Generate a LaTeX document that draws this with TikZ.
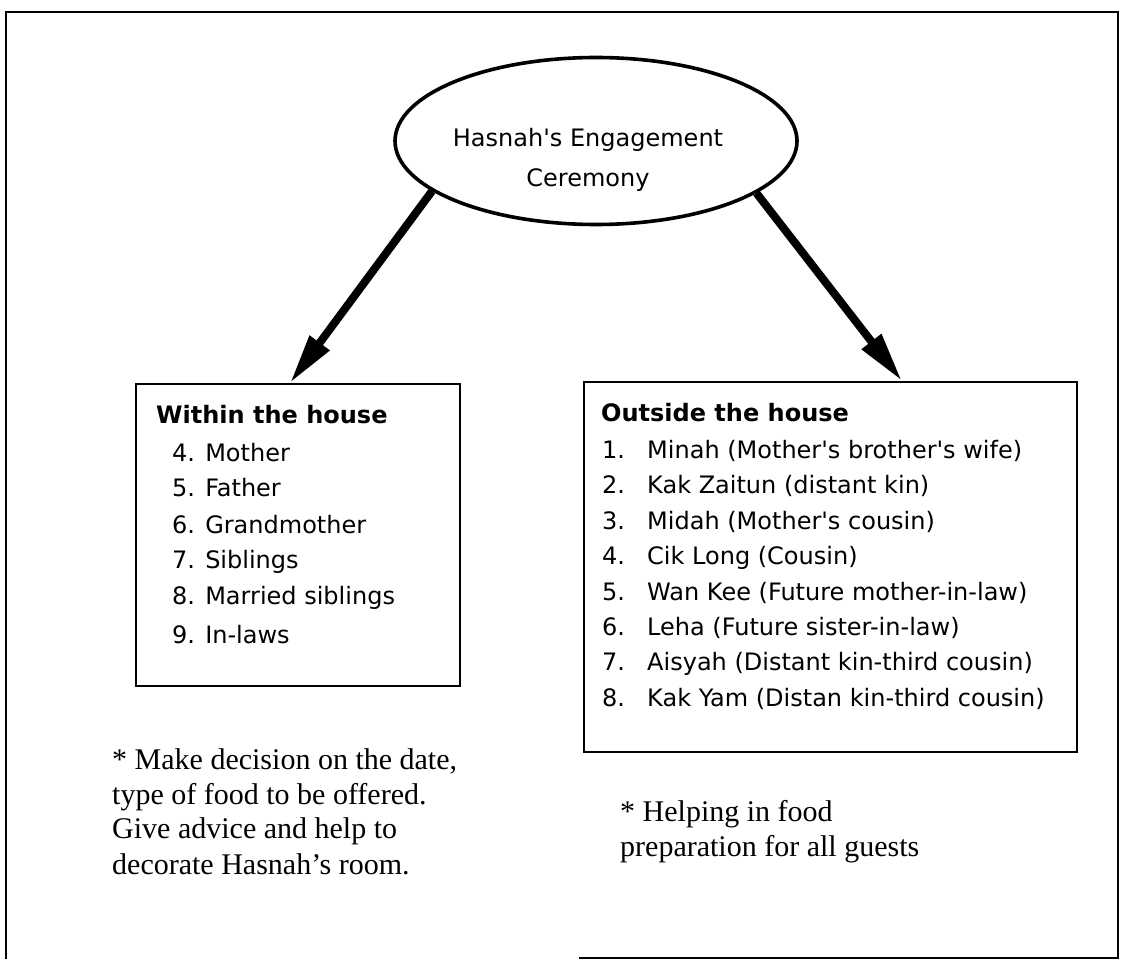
\documentclass[tikz,border=0pt]{standalone}
\usepackage{fontspec}
\setmainfont{Liberation Serif}
\newfontfamily\handfont{DejaVu Sans}
\usetikzlibrary{shapes.geometric,arrows.meta}

\tikzset{
  frameline/.style={line width=1.6pt, line cap=rect},
  bubble/.style={ellipse, draw, line width=3.6pt, inner sep=0pt},
  listbox/.style={draw, line width=1.7pt, anchor=north west, inner sep=0pt},
  bigarrow/.style={line width=8pt, -{Triangle[length=50pt,width=23pt]}},
  hand/.style={font=\handfont\fontsize{24}{30}\selectfont, inner sep=0pt, anchor=base west},
  handhead/.style={hand, font=\handfont\bfseries\fontsize{24}{30}\selectfont},
  handmid/.style={hand, anchor=base},
  note/.style={font=\fontsize{30}{35}\selectfont, inner sep=0pt, anchor=base west}
}

\begin{document}
\begin{tikzpicture}[x=1pt, y=-1pt]
  \useasboundingbox (0,0) rectangle (1123,960);

  % outer frame, open along the lower left
  \draw[frameline] (580,958) -- (1118,958) -- (1118,12) -- (6,12) -- (6,958);

  % central event
  \node[bubble, minimum width=402pt, minimum height=167pt] (cer) at (596,141) {};
  \node[handmid] (cer1) at (588,147) {Hasnah's Engagement};
  \node[handmid] (cer2) at (588,186) {Ceremony};

  % the two groups of helpers
  \node[listbox, minimum width=324pt, minimum height=302pt] (within) at (135,383) {};
  \node[listbox, minimum width=493pt, minimum height=370pt] (outside) at (583,381) {};

  % arrow tips resting on the top edges of the boxes
  \coordinate (ltip) at ([xshift=155pt]within.north west);
  \coordinate (rtip) at ([xshift=319pt]outside.north west);
  \draw[bigarrow] (cer.197.8) -- (ltip);
  \draw[bigarrow] (cer.342.3) -- (rtip);

  % household members
  \node[handhead] (wh) at (156,423.5) {Within the house};
  \foreach \txt/\yy [count=\i] in {4. Mother/461.5, 5. Father/496.5, 6. Grandmother/533.5,
      7. Siblings/568.5, 8. Married siblings/604.5, 9. In-laws/643.5}
    \node[hand] (w\i) at (172,\yy) {\txt};

  % relatives from outside the household
  \node[handhead] (oh) at (601,421.5) {Outside the house};
  \foreach \num/\txt [count=\i] in {1./Minah (Mother's brother's wife),
      2./Kak Zaitun (distant kin), 3./Midah (Mother's cousin), 4./Cik Long (Cousin),
      5./Wan Kee (Future mother-in-law), 6./Leha (Future sister-in-law),
      7./Aisyah (Distant kin-third cousin), 8./Kak Yam (Distan kin-third cousin)} {
    \pgfmathsetmacro{\yy}{458.5+35.4*(\i-1)}
    \node[hand] (on\i) at (602,\yy) {\num};
    \node[hand] (ot\i) at (647,\yy) {\txt};
  }

  % notes on each group's tasks
  \node[note] (n1) at (112,769) {* Make decision on the date,};
  \node[note] (n2) at (112,804) {type of food to be offered.};
  \node[note] (n3) at (112,838) {Give advice and help to};
  \node[note] (n4) at (112,874) {decorate Hasnah’s room.};
  \node[note] (m1) at (620,821) {* Helping in food};
  \node[note] (m2) at (620,856) {preparation for all guests};
\end{tikzpicture}
\end{document}
